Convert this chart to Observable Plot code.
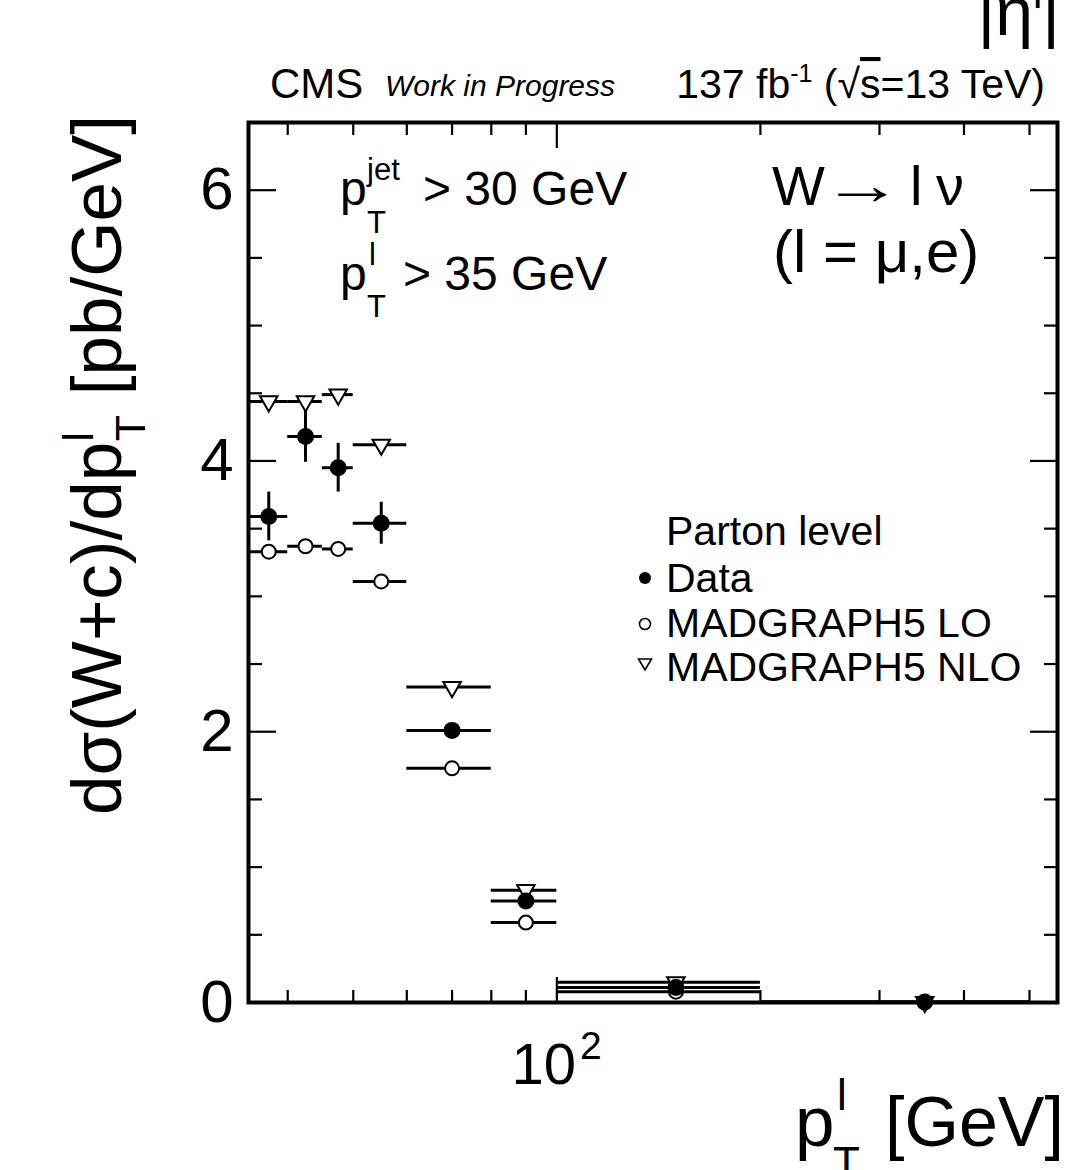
<!DOCTYPE html>
<html><head><meta charset="utf-8">
<script src="https://cdn.jsdelivr.net/npm/d3@7"></script>
<script src="https://cdn.jsdelivr.net/npm/@observablehq/plot@0.6"></script>
<style>
body{margin:0;background:#fff;}
#wrap{position:relative;width:1082px;height:1170px;overflow:hidden;background:#fff;}
#ann{position:absolute;left:0;top:0;pointer-events:none;}
</style></head><body>
<div id="wrap"><div id="chart"></div>
<svg id="ann" width="1082" height="1170" font-family="Liberation Sans, Arial, sans-serif" fill="#000">
  <!-- top-right clipped label -->
  <text x="1060" y="35" font-size="68" text-anchor="end">|η<tspan dy="-27" font-size="42">l</tspan><tspan dy="27">|</tspan></text>
  <!-- header -->
  <text x="270" y="98" font-size="42">CMS</text>
  <text x="385" y="96" font-size="30" font-style="italic">Work in Progress</text>
  <text x="1045" y="98" font-size="41" text-anchor="end">137 fb<tspan dy="-16" font-size="25">-1</tspan><tspan dy="16"> (</tspan><tspan>√</tspan><tspan style="text-decoration:overline">s</tspan><tspan>=13 TeV)</tspan></text>
  <!-- cuts -->
  <text x="340" y="205" font-size="48">p</text>
  <text x="367" y="180" font-size="31">jet</text>
  <text x="367" y="233" font-size="31">T</text>
  <text x="423" y="205" font-size="48">&gt; 30 GeV</text>
  <text x="340" y="290" font-size="48">p</text>
  <text x="369" y="265" font-size="31">l</text>
  <text x="367" y="317" font-size="31">T</text>
  <text x="403" y="290" font-size="48">&gt; 35 GeV</text>
  <!-- process -->
  <text x="772" y="205" font-size="56">W</text>
  <text transform="translate(822,204) scale(1.45,1)" font-size="56">→</text>
  <text y="205" font-size="56"><tspan x="910">l</tspan><tspan x="936">ν</tspan></text>
  <text x="773" y="272" font-size="60">(l = μ,e)</text>
  <!-- legend -->
  <text x="666" y="545" font-size="41">Parton level</text>
  <text x="666" y="592" font-size="41">Data</text>
  <text x="666" y="637" font-size="41">MADGRAPH5 LO</text>
  <text x="666" y="681" font-size="41">MADGRAPH5 NLO</text>
  <circle cx="645" cy="578" r="6" fill="#000"/>
  <circle cx="645" cy="624" r="5.5" fill="#fff" stroke="#000" stroke-width="1.6"/>
  <path d="M638.5,659 L651.5,659 L645,670 Z" fill="#fff" stroke="#000" stroke-width="1.6"/>
  <!-- axis titles -->
  <text transform="translate(121,115) rotate(-90)" font-size="71" text-anchor="end">dσ(W+c)/dp<tspan dy="-28" font-size="43">l</tspan><tspan dx="-9" dy="52" font-size="43">T</tspan><tspan dy="-24"> [pb/GeV]</tspan></text>
  <text x="795" y="1146" font-size="71">p</text>
  <text x="837" y="1110" font-size="44">l</text>
  <text x="833" y="1178" font-size="44">T</text>
  <text x="885" y="1146" font-size="70">[GeV]</text>
</svg></div>
<script>
// bins of lepton pT [GeV]
const binLow    = [35, 40, 45, 50, 60, 80, 100, 200];
const binHigh   = [40, 45, 50, 60, 80, 100, 200, 500];
const binCenter = [37.5, 42.5, 47.5, 55, 70, 90, 150, 350];
// dsigma/dpT [pb/GeV]
const dataVal = [3.59, 4.18, 3.95, 3.54, 2.01, 0.75, 0.11, 0.003];
const dataErr = [0.18, 0.19, 0.18, 0.155, 0.04, 0.03, 0.01, 0.001];
const loVal   = [3.33, 3.37, 3.35, 3.11, 1.73, 0.59, 0.08, 0.002];
const nloVal  = [4.44, 4.44, 4.49, 4.12, 2.33, 0.83, 0.15, 0.004];
// ticks
const yMajor = [0, 2, 4, 6];
const yMinor = [0.5, 1, 1.5, 2.5, 3, 3.5, 4.5, 5, 5.5];
const xMajor = [100];
const xMinor = [40, 50, 60, 70, 80, 90, 200, 300, 400, 500];
const xTickBase = ["10"];
const xTickExp = ["2"];

const rows = binCenter.map((c, i) => ({
  c, lo: binLow[i], hi: binHigh[i],
  data: dataVal[i], err: dataErr[i], lov: loVal[i], nlo: nloVal[i]
}));

const triDown = {
  draw(ctx, size) {
    const y = Math.sqrt(size / (Math.sqrt(3) * 3));
    ctx.moveTo(0, 2 * y);
    ctx.lineTo(-Math.sqrt(3) * y, -y);
    ctx.lineTo(Math.sqrt(3) * y, -y);
    ctx.closePath();
  }
};

const tickOpts = {tickFormat: () => "", stroke: "black", strokeWidth: 2.2, label: null};

const chart = Plot.plot({
  width: 1082, height: 1170,
  marginLeft: 248, marginRight: 25, marginTop: 122, marginBottom: 168,
  style: {fontFamily: "Liberation Sans, Arial, sans-serif", background: "white", color: "black"},
  x: {type: "log", domain: [35, 550]},
  y: {domain: [0, 6.5]},
  marks: [
    // inward ticks
    Plot.axisY({...tickOpts, ticks: yMajor, anchor: "left", tickSize: 28, dx: 28}),
    Plot.axisY({...tickOpts, ticks: yMinor, anchor: "left", tickSize: 14, dx: 14}),
    Plot.axisY({...tickOpts, ticks: yMajor, anchor: "right", tickSize: 28, dx: -28}),
    Plot.axisY({...tickOpts, ticks: yMinor, anchor: "right", tickSize: 14, dx: -14}),
    Plot.axisX({...tickOpts, ticks: xMajor, anchor: "bottom", tickSize: 25, dy: -25}),
    Plot.axisX({...tickOpts, ticks: xMinor, anchor: "bottom", tickSize: 12, dy: -12}),
    Plot.axisX({...tickOpts, ticks: xMajor, anchor: "top", tickSize: 25, dy: 25}),
    Plot.axisX({...tickOpts, ticks: xMinor, anchor: "top", tickSize: 12, dy: 12}),
    // tick labels
    Plot.axisY({ticks: yMajor, anchor: "left", tickSize: 0, tickPadding: 15, fontSize: 60, label: null, tickFormat: d => String(d)}),
    Plot.axisX({ticks: xMajor, anchor: "bottom", tickSize: 0, tickPadding: 40, fontSize: 58, label: null, dx: -13,
      tickFormat: d => xTickBase[xMajor.indexOf(d)]}),
    Plot.axisX({ticks: xMajor, anchor: "bottom", tickSize: 0, tickPadding: 40, fontSize: 39, label: null, dx: 34, dy: -11,
      tickFormat: d => xTickExp[xMajor.indexOf(d)]}),
    // horizontal bin-width bars
    Plot.ruleY(rows, {y: "nlo", x1: "lo", x2: "hi", stroke: "black", strokeWidth: 3}),
    Plot.ruleY(rows, {y: "data", x1: "lo", x2: "hi", stroke: "black", strokeWidth: 3}),
    Plot.ruleY(rows, {y: "lov", x1: "lo", x2: "hi", stroke: "black", strokeWidth: 3}),
    // data vertical errors
    Plot.ruleX(rows, {x: "c", y1: d => d.data - d.err, y2: d => d.data + d.err, stroke: "black", strokeWidth: 3}),
    // markers
    Plot.dot(rows, {x: "c", y: "nlo", symbol: triDown, r: 6.5, fill: "white", stroke: "black", strokeWidth: 2}),
    Plot.dot(rows, {x: "c", y: "lov", r: 7, fill: "white", stroke: "black", strokeWidth: 2}),
    Plot.dot(rows, {x: "c", y: "data", r: 8.5, fill: "black", stroke: "none"}),
    Plot.frame({stroke: "black", strokeWidth: 4})
  ]
});
document.getElementById("chart").appendChild(chart);
</script>
</body></html>
